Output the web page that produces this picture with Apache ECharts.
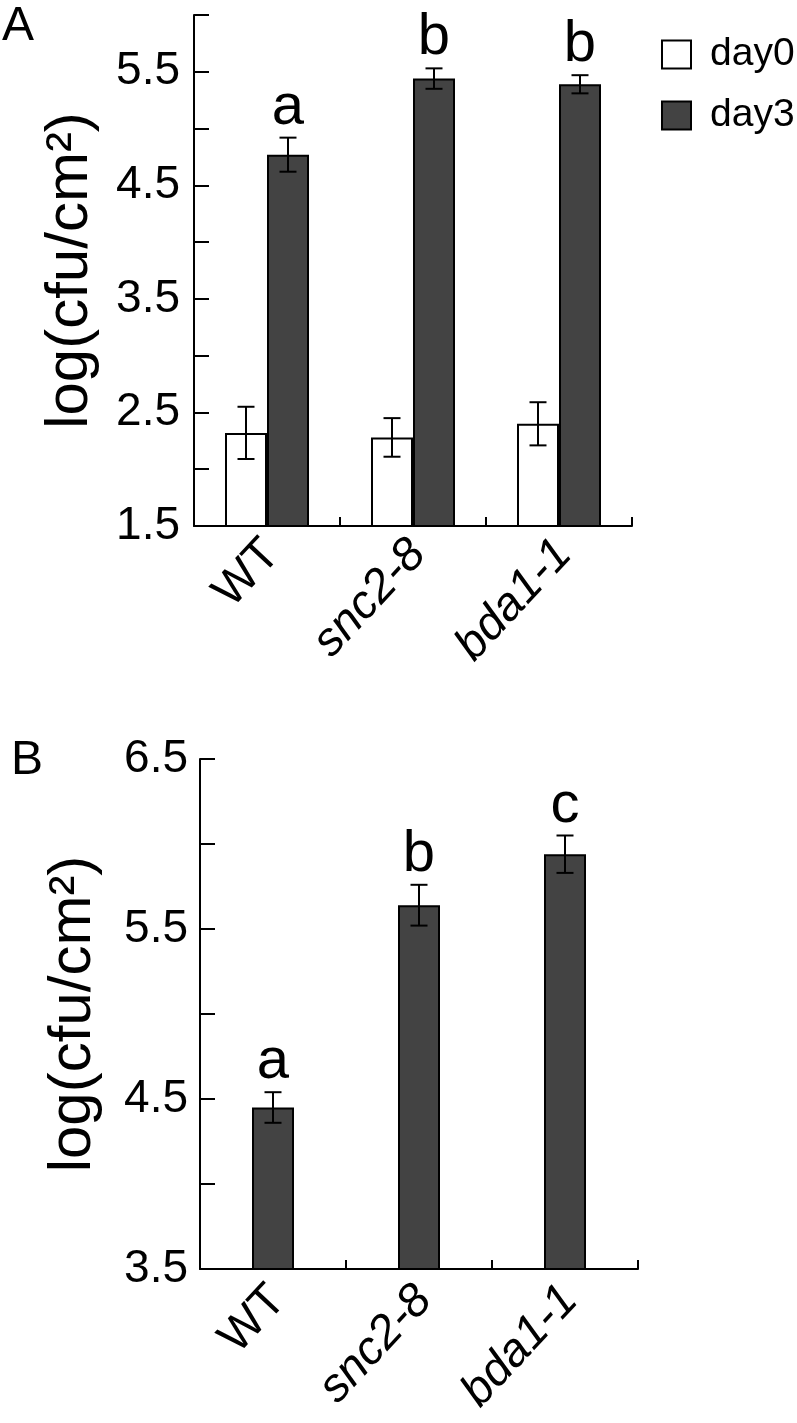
<!DOCTYPE html>
<html>
<head>
<meta charset="utf-8">
<script src="https://cdn.jsdelivr.net/npm/echarts@6/dist/echarts.min.js"></script>
<style>
  html, body { margin: 0; padding: 0; background: #fff; }
  #chart { width: 797px; height: 1423px; }
</style>
</head>
<body>
<div id="chart"></div>
<script>
// 数据
const categories = ['WT', 'snc2-8', 'bda1-1'];
const day0Mean = [2.32, 2.28, 2.40];
const day0Err = [0.23, 0.17, 0.19];
const day3Mean = [4.77, 5.44, 5.39];
const day3Err = [0.15, 0.09, 0.08];
const day3Letters = ['a', 'b', 'b'];
const bMean = [4.45, 5.64, 5.94];
const bErr = [0.09, 0.12, 0.11];
const bLetters = ['a', 'b', 'c'];
const aYLabels = ['1.5', '2.5', '3.5', '4.5', '5.5'];
const bYLabels = ['3.5', '4.5', '5.5', '6.5'];

const FONT = '"Liberation Sans", Arial, sans-serif';
const DARK = '#434343';

// 误差线 + 显著性字母
function errorSeries(xi, yi, means, errs, letters, offset) {
  return {
    type: 'custom',
    xAxisIndex: xi,
    yAxisIndex: yi,
    z: 10,
    silent: true,
    data: means.map((m, i) => [i, m, errs[i]]),
    renderItem: function (params, api) {
      const i = api.value(0);
      const hi = api.coord([i, api.value(1) + api.value(2)]);
      const lo = api.coord([i, api.value(1) - api.value(2)]);
      const x = hi[0] + offset;
      const cap = 8.5;
      const line = { stroke: '#000', lineWidth: 2 };
      const children = [
        { type: 'line', shape: { x1: x, y1: hi[1], x2: x, y2: lo[1] }, style: line },
        { type: 'line', shape: { x1: x - cap, y1: hi[1], x2: x + cap, y2: hi[1] }, style: line },
        { type: 'line', shape: { x1: x - cap, y1: lo[1], x2: x + cap, y2: lo[1] }, style: line }
      ];
      const letter = letters ? letters[params.dataIndex] : '';
      if (letter) {
        children.push({
          type: 'text',
          style: {
            text: letter, x: x, y: hi[1] - 1,
            align: 'center', verticalAlign: 'bottom',
            fontSize: 58, fontFamily: FONT, fill: '#000'
          }
        });
      }
      return { type: 'group', children: children };
    }
  };
}

function xAxisCfg(gridIndex, margin) {
  return {
    type: 'category',
    gridIndex: gridIndex,
    data: categories,
    axisLine: { lineStyle: { color: '#000', width: 2 } },
    axisTick: { show: true, inside: true, length: 9, lineStyle: { color: '#000', width: 2 } },
    splitLine: { show: false },
    axisLabel: {
      rotate: 47,
      margin: margin,
      interval: 0,
      color: '#000',
      formatter: v => v === 'WT' ? '{n|' + v + '}' : '{i|' + v + '}',
      rich: {
        n: { fontSize: 47, fontFamily: FONT, color: '#000', padding: [14, 0, 0, 0] },
        i: { fontSize: 47, fontFamily: FONT, fontStyle: 'italic', color: '#000', padding: [14, 0, 0, 0] }
      }
    }
  };
}

function yAxisCfg(gridIndex, min, max, labels, margin, gap) {
  return {
    type: 'value',
    gridIndex: gridIndex,
    min: min,
    max: max,
    interval: 0.5,
    name: 'log(cfu/cm²)',
    nameLocation: 'middle',
    nameRotate: 90,
    nameGap: gap,
    nameTextStyle: { fontSize: 60, fontFamily: FONT, color: '#000' },
    axisLine: { show: true, lineStyle: { color: '#000', width: 2 } },
    axisTick: { show: true, inside: true, length: 15, lineStyle: { color: '#000', width: 2 } },
    splitLine: { show: false },
    axisLabel: {
      margin: margin,
      fontSize: 46,
      fontFamily: FONT,
      color: '#000',
      formatter: v => labels.includes(v.toFixed(1)) ? v.toFixed(1) : ''
    }
  };
}

const chart = echarts.init(document.getElementById('chart'));
const option = {
  animation: false,
  backgroundColor: '#fff',
  textStyle: { fontFamily: FONT },
  grid: [
    { left: 194, top: 15, width: 438, height: 511, outerBoundsMode: 'none' },
    { left: 200, top: 759, width: 438, height: 510, outerBoundsMode: 'none' }
  ],
  legend: {
    data: ['day0', 'day3'],
    orient: 'vertical',
    left: 656,
    top: 30,
    itemWidth: 29,
    itemHeight: 28,
    itemGap: 22,
    icon: 'rect',
    textStyle: { fontSize: 39, fontFamily: FONT, color: '#000', padding: [0, 0, 0, 14] }
  },
  graphic: [
    { type: 'text', left: 2, top: 3, style: { text: 'A', fontSize: 48, fontFamily: FONT, fill: '#000' } },
    { type: 'text', left: 11, top: 737, style: { text: 'B', fontSize: 48, fontFamily: FONT, fill: '#000' } }
  ],
  xAxis: [xAxisCfg(0, 16), xAxisCfg(1, 19)],
  yAxis: [yAxisCfg(0, 1.5, 6.0, aYLabels, 14, 94), yAxisCfg(1, 3.5, 6.5, bYLabels, 12, 97)],
  series: [
    {
      name: 'day0', type: 'bar', xAxisIndex: 0, yAxisIndex: 0,
      data: day0Mean, barWidth: 42, barGap: '0%',
      itemStyle: { color: '#fff', borderColor: '#000', borderWidth: 2 }
    },
    {
      name: 'day3', type: 'bar', xAxisIndex: 0, yAxisIndex: 0,
      data: day3Mean, barWidth: 42, barGap: '0%',
      itemStyle: { color: DARK, borderColor: '#000', borderWidth: 2 }
    },
    errorSeries(0, 0, day0Mean, day0Err, null, -21),
    errorSeries(0, 0, day3Mean, day3Err, day3Letters, 21),
    {
      name: 'B', type: 'bar', xAxisIndex: 1, yAxisIndex: 1,
      data: bMean, barWidth: 42,
      itemStyle: { color: DARK, borderColor: '#000', borderWidth: 2 }
    },
    errorSeries(1, 1, bMean, bErr, bLetters, 0)
  ]
};
chart.setOption(option);
</script>
</body>
</html>
